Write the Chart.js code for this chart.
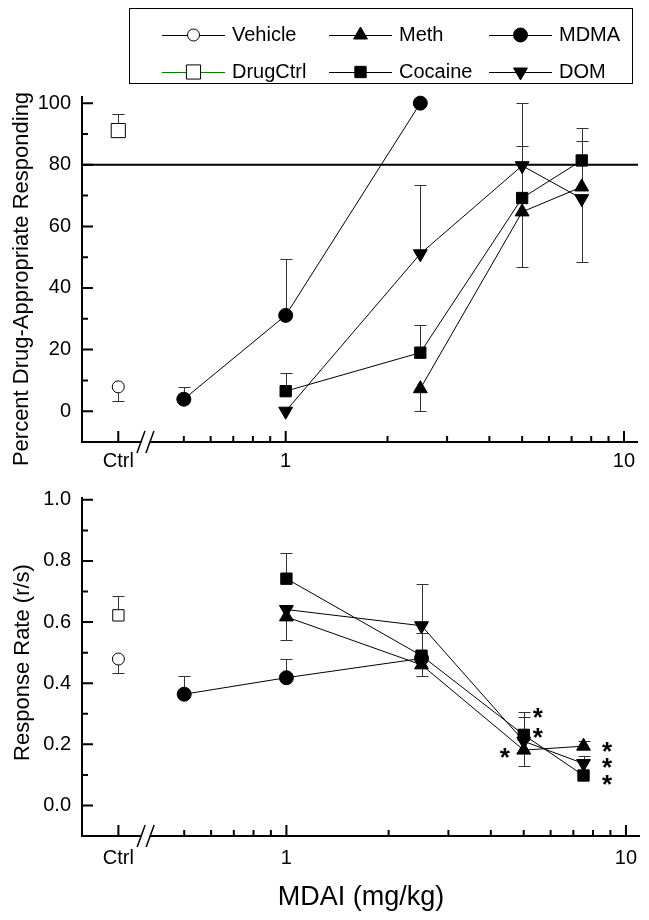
<!DOCTYPE html>
<html>
<head>
<meta charset="utf-8">
<title>MDAI dose-response</title>
<script src="https://cdn.jsdelivr.net/npm/chart.js@4.4.0/dist/chart.umd.min.js"></script>
<style>
    html, body { margin: 0; padding: 0; background: #fff; }
    #page { position: relative; width: 649px; height: 920px; overflow: hidden; }
    .panel { position: absolute; left: 0; }
    #top-panel { top: 0; }
    #bottom-panel { top: 475px; }
</style>
</head>
<body>
<div id="page">
    <div class="panel" id="top-panel"><canvas id="pctChart" width="649" height="475"></canvas></div>
    <div class="panel" id="bottom-panel"><canvas id="rateChart" width="649" height="445"></canvas></div>
</div>
<script>
const FONT = "'Liberation Sans', Arial, sans-serif";

// x positions (mg/kg); the control groups sit left of the axis break
const doses = [0.5, 1, 2.5, 5, 7.5];
const ctrlDose = [0.32];
const breakDose = 0.385;
const xMajorTicks = [0.32, 1, 10];
const xMinorTicks = [0.5, 0.6, 0.7, 0.8, 0.9, 2, 3, 4, 5, 6, 7, 8, 9];

// top panel: percent drug-appropriate responding
// error arrays are signed: negative = bar drawn below the mean
const pctTicks = [0, 20, 40, 60, 80, 100];
const pctMinorTicks = [10, 30, 50, 70, 90];
const criterionPct = 80;
const vehiclePct = [7.9];
const vehiclePctErr = [-4.7];
const drugCtrlPct = [91.1];
const drugCtrlPctErr = [5.5];
const methPct = [null, null, 7.3, 64.7, 72.8];
const methPctErr = [null, null, -7.2, -17.9, 14.9];
const mdmaPct = [3.9, 31.1, 100, null, null];
const mdmaPctErr = [4.0, 18.4, null, null, null];
const cocainePct = [null, 6.5, 19.0, 69.2, 81.4];
const cocainePctErr = [null, 6.0, 9.1, 16.8, 10.5];
const domPct = [null, 0, 51.1, 79.7, 69.0];
const domPctErr = [null, null, 22.2, 20.3, -20.6];

// bottom panel: response rate (r/s)
const rateTicks = [0.0, 0.2, 0.4, 0.6, 0.8, 1.0];
const rateMinorTicks = [0.1, 0.3, 0.5, 0.7, 0.9];
const vehicleRate = [0.479];
const vehicleRateErr = [-0.045];
const drugCtrlRate = [0.622];
const drugCtrlRateErr = [0.064];
const methRate = [null, 0.617, 0.46, 0.181, 0.194];
const methRateErr = [null, -0.075, -0.038, -0.051, 0.016];
const mdmaRate = [0.364, 0.418, 0.481, null, null];
const mdmaRateErr = [0.059, 0.06, null, null, null];
const cocaineRate = [null, 0.742, 0.49, 0.231, 0.098];
const cocaineRateErr = [null, 0.085, 0.073, 0.075, null];
const domRate = [null, 0.641, 0.588, 0.21, 0.137];
const domRateErr = [null, null, 0.138, 0.08, 0.025];

// significance asterisks (dose, rate)
const starDoses = [5.5, 5.5, 4.4, 8.8, 8.8, 8.8];
const starRates = [0.292, 0.228, 0.162, 0.183, 0.128, 0.074];

const seriesStyle = {
    Vehicle:  { shape: 'circle',   radius: 6,  fill: '#fff', line: '#000' },
    DrugCtrl: { shape: 'rect',     radius: 10, fill: '#fff', line: '#008000' },
    Meth:     { shape: 'triangle', radius: 8,  fill: '#000', line: '#000' },
    MDMA:     { shape: 'circle',   radius: 7,  fill: '#000', line: '#000' },
    Cocaine:  { shape: 'rect',     radius: 8,  fill: '#000', line: '#000' },
    DOM:      { shape: 'triangle', radius: 8,  fill: '#000', line: '#000', rotation: 180 }
};

function buildSeries(label, xs, values, errs, radius) {
    const st = seriesStyle[label];
    const points = [];
    values.forEach((v, i) => {
        if (v !== null) points.push({ x: xs[i], y: v, err: errs[i] });
    });
    return {
        label: label,
        data: points,
        showLine: true,
        clip: false,
        borderColor: st.line,
        borderWidth: 1,
        pointStyle: st.shape,
        pointRotation: st.rotation || 0,
        pointRadius: radius || st.radius,
        pointBackgroundColor: st.fill,
        pointBorderColor: '#000',
        pointBorderWidth: 1
    };
}

// error bars drawn under the markers
const errorBars = {
    id: 'errorBars',
    beforeDatasetsDraw(chart) {
        const { ctx, scales: { x, y } } = chart;
        ctx.save();
        ctx.strokeStyle = '#333';
        ctx.lineWidth = 1;
        chart.data.datasets.forEach(ds => {
            ds.data.forEach(p => {
                if (p.err == null) return;
                const px = Math.round(x.getPixelForValue(p.x)) + 0.5;
                const y0 = y.getPixelForValue(p.y);
                const y1 = Math.round(y.getPixelForValue(p.y + p.err)) + 0.5;
                ctx.beginPath();
                ctx.moveTo(px, y0);
                ctx.lineTo(px, y1);
                ctx.moveTo(px - 6, y1);
                ctx.lineTo(px + 6, y1);
                ctx.stroke();
            });
        });
        ctx.restore();
    }
};

// L-shaped frame, inward ticks, axis break, criterion line
const frame = {
    id: 'frame',
    beforeDatasetsDraw(chart, args, opts) {
        if (opts.refLine == null) return;
        const { ctx, chartArea: a, scales: { y } } = chart;
        const py = y.getPixelForValue(opts.refLine);
        ctx.save();
        ctx.strokeStyle = '#000';
        ctx.lineWidth = 2;
        ctx.beginPath();
        ctx.moveTo(a.left, py);
        ctx.lineTo(a.right, py);
        ctx.stroke();
        ctx.restore();
    },
    afterDraw(chart, args, opts) {
        const { ctx, chartArea: a, scales: { x, y } } = chart;
        ctx.save();
        ctx.strokeStyle = '#000';
        ctx.lineWidth = 2;
        ctx.beginPath();
        ctx.moveTo(a.left, a.top - 1);
        ctx.lineTo(a.left, a.bottom);
        ctx.lineTo(a.right, a.bottom);
        y.ticks.forEach(t => {
            const py = y.getPixelForValue(t.value);
            ctx.moveTo(a.left, py);
            ctx.lineTo(a.left + 11, py);
        });
        opts.yMinor.forEach(v => {
            const py = y.getPixelForValue(v);
            ctx.moveTo(a.left, py);
            ctx.lineTo(a.left + 6, py);
        });
        xMajorTicks.forEach(v => {
            const px = x.getPixelForValue(v);
            ctx.moveTo(px, a.bottom);
            ctx.lineTo(px, a.bottom - 11);
        });
        xMinorTicks.forEach(v => {
            const px = x.getPixelForValue(v);
            ctx.moveTo(px, a.bottom);
            ctx.lineTo(px, a.bottom - 6);
        });
        ctx.stroke();

        // axis break "//"
        const bx = x.getPixelForValue(breakDose);
        ctx.fillStyle = '#fff';
        ctx.fillRect(bx - 4, a.bottom - 2, 8, 4);
        ctx.lineWidth = 1.5;
        ctx.beginPath();
        [-4.5, 4.5].forEach(dx => {
            ctx.moveTo(bx + dx - 4, a.bottom + 11);
            ctx.lineTo(bx + dx + 4, a.bottom - 11);
        });
        ctx.stroke();
        ctx.restore();
    }
};

const axisTitles = {
    id: 'axisTitles',
    afterDraw(chart, args, opts) {
        const ctx = chart.ctx;
        opts.items.forEach(t => {
            ctx.save();
            ctx.fillStyle = '#000';
            ctx.font = t.size + 'px ' + FONT;
            ctx.textAlign = 'center';
            ctx.textBaseline = 'alphabetic';
            ctx.translate(t.x, t.y);
            if (t.vertical) ctx.rotate(-Math.PI / 2);
            ctx.fillText(t.text, 0, 0);
            ctx.restore();
        });
    }
};

const stars = {
    id: 'stars',
    afterDatasetsDraw(chart, args, opts) {
        if (!opts.doses) return;
        const { ctx, scales: { x, y } } = chart;
        ctx.save();
        ctx.fillStyle = '#000';
        ctx.font = 'bold 26px ' + FONT;
        ctx.textAlign = 'center';
        ctx.textBaseline = 'alphabetic';
        opts.doses.forEach((d, i) => {
            ctx.fillText('*', x.getPixelForValue(d), y.getPixelForValue(opts.values[i]) + 10);
        });
        ctx.restore();
    }
};

const legendOrder = [['Vehicle', 'Meth', 'MDMA'], ['DrugCtrl', 'Cocaine', 'DOM']];
const boxLegend = {
    id: 'boxLegend',
    afterDraw(chart, args, opts) {
        if (!opts.show) return;
        const ctx = chart.ctx;
        const cols = [162, 329, 489];
        const rows = [35, 72];
        const lineLen = 63;
        ctx.save();
        ctx.strokeStyle = '#000';
        ctx.lineWidth = 1;
        ctx.strokeRect(129.5, 8.5, 503, 75);
        legendOrder.forEach((row, r) => row.forEach((label, c) => {
            const ds = chart.data.datasets.find(d => d.label === label);
            const x0 = cols[c];
            const yy = rows[r];
            ctx.strokeStyle = ds.borderColor;
            ctx.lineWidth = 1;
            ctx.beginPath();
            ctx.moveTo(x0, yy + 0.5);
            ctx.lineTo(x0 + lineLen, yy + 0.5);
            ctx.stroke();
            ctx.fillStyle = ds.pointBackgroundColor;
            ctx.strokeStyle = ds.pointBorderColor;
            Chart.helpers.drawPoint(ctx, {
                pointStyle: ds.pointStyle,
                radius: ds.pointRadius,
                rotation: ds.pointRotation,
                borderWidth: 1
            }, x0 + lineLen / 2, yy);
            ctx.fillStyle = '#000';
            ctx.font = '20px ' + FONT;
            ctx.textAlign = 'left';
            ctx.textBaseline = 'middle';
            ctx.fillText(label, x0 + lineLen + 7, yy);
        }));
        ctx.restore();
    }
};

function makePanel(canvasId, cfg) {
    return new Chart(document.getElementById(canvasId), {
        type: 'line',
        data: { datasets: cfg.datasets },
        options: {
            responsive: false,
            animation: false,
            events: [],
            layout: { padding: { top: cfg.padTop, right: 9, left: 0, bottom: 0 } },
            scales: {
                x: {
                    type: 'logarithmic',
                    min: 0.25,
                    max: 11,
                    grid: { display: false, drawTicks: false },
                    border: { display: false },
                    afterBuildTicks: s => { s.ticks = xMajorTicks.map(v => ({ value: v })); },
                    afterFit: s => { s.height = cfg.xHeight; },
                    ticks: {
                        color: '#000',
                        font: { family: FONT, size: 20 },
                        padding: cfg.xPad,
                        maxRotation: 0,
                        autoSkip: false,
                        callback: v => (v === ctrlDose[0] ? 'Ctrl' : String(v))
                    }
                },
                y: {
                    type: 'linear',
                    min: cfg.yMin,
                    max: cfg.yMax,
                    grid: { display: false, drawTicks: false },
                    border: { display: false },
                    afterBuildTicks: s => { s.ticks = cfg.yTicks.map(v => ({ value: v })); },
                    afterFit: s => { s.width = 82; },
                    ticks: {
                        color: '#000',
                        font: { family: FONT, size: 20 },
                        padding: 11,
                        callback: cfg.yFormat
                    }
                }
            },
            plugins: {
                legend: { display: false },
                tooltip: { enabled: false },
                frame: { refLine: cfg.refLine, yMinor: cfg.yMinor },
                axisTitles: { items: cfg.titles },
                stars: cfg.stars || {},
                boxLegend: { show: !!cfg.legend }
            }
        },
        plugins: [errorBars, frame, axisTitles, stars, boxLegend]
    });
}

makePanel('pctChart', {
    datasets: [
        buildSeries('Vehicle', ctrlDose, vehiclePct, vehiclePctErr),
        buildSeries('DrugCtrl', ctrlDose, drugCtrlPct, drugCtrlPctErr),
        buildSeries('Cocaine', doses, cocainePct, cocainePctErr),
        buildSeries('Meth', doses, methPct, methPctErr),
        buildSeries('DOM', doses, domPct, domPctErr),
        buildSeries('MDMA', doses, mdmaPct, mdmaPctErr)
    ],
    padTop: 97,
    xHeight: 33,
    xPad: 7,
    yMin: -10,
    yMax: 102,
    yTicks: pctTicks,
    yMinor: pctMinorTicks,
    yFormat: v => String(v),
    refLine: criterionPct,
    legend: true,
    titles: [
        { text: 'Percent Drug-Appropriate Responding', x: 28, y: 279, size: 22, vertical: true }
    ]
});

makePanel('rateChart', {
    datasets: [
        buildSeries('Vehicle', ctrlDose, vehicleRate, vehicleRateErr),
        buildSeries('DrugCtrl', ctrlDose, drugCtrlRate, drugCtrlRateErr, 8),
        buildSeries('Cocaine', doses, cocaineRate, cocaineRateErr),
        buildSeries('Meth', doses, methRate, methRateErr),
        buildSeries('DOM', doses, domRate, domRateErr),
        buildSeries('MDMA', doses, mdmaRate, mdmaRateErr)
    ],
    padTop: 14,
    xHeight: 84,
    xPad: 10,
    yMin: -0.1,
    yMax: 1.006,
    yTicks: rateTicks,
    yMinor: rateMinorTicks,
    yFormat: v => v.toFixed(1),
    refLine: null,
    stars: { doses: starDoses, values: starRates },
    titles: [
        { text: 'Response Rate (r/s)', x: 29, y: 187.5, size: 22, vertical: true },
        { text: 'MDAI (mg/kg)', x: 361, y: 430, size: 27 }
    ]
});
</script>
</body>
</html>
